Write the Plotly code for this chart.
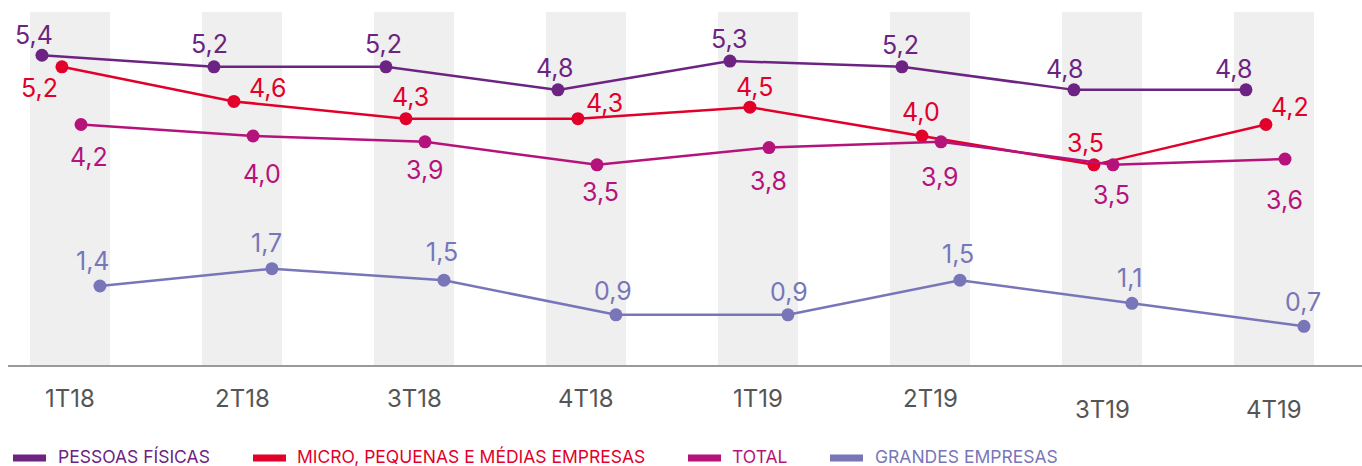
import plotly.graph_objects as go

# Quarterly series (values in %)
quarters = ["1T18", "2T18", "3T18", "4T18", "1T19", "2T19", "3T19", "4T19"]
pessoas_fisicas = [5.4, 5.2, 5.2, 4.8, 5.3, 5.2, 4.8, 4.8]
micro_pme = [5.2, 4.6, 4.3, 4.3, 4.5, 4.0, 3.5, 4.2]
total = [4.2, 4.0, 3.9, 3.5, 3.8, 3.9, 3.5, 3.6]
grandes_empresas = [1.4, 1.7, 1.5, 0.9, 0.9, 1.5, 1.1, 0.7]
series_names = ["PESSOAS FÍSICAS", "MICRO, PEQUENAS E MÉDIAS EMPRESAS",
                "TOTAL", "GRANDES EMPRESAS"]

# ---- styling -------------------------------------------------------------
FONT = "Inter"
W, H = 1362, 466
PLOT_L, PLOT_T, PLOT_W, PLOT_H = 8, 12, 1354, 353

colors = ["#6c2382", "#e2002b", "#b5137b", "#7876b8"]
x_offsets = [-0.163, -0.047, 0.064, 0.174]      # dodge inside each quarter
band_half = 0.233                                 # half width of grey bands

# label offsets (dx, dy in px, dy positive = down) for each point
label_offsets = [
    [(-8, -20), (-4, -23), (-2, -23), (-3, -22), (0, -22), (-1, -22), (-9, -21), (-12, -21)],
    [(-22, 21), (34, -13), (5, -22), (27, -16), (5, -20), (-1, -24), (-8, -22), (24, -17)],
    [(8, 33), (9, 38), (-1, 28), (3, 27), (-1, 33), (-2, 35), (-2, 30), (-1, 41)],
    [(-7, -25), (-5, -26), (-2, -28), (-3, -24), (1, -23), (-2, -26), (-2, -25), (-1, -24)],
]

legend_swatch_px = [13, 253, 688, 830]
legend_text_px = [56, 295, 730, 873]
LEGEND_Y_PX = 456
tick_y_px = {q: 398 for q in quarters}
tick_y_px["3T19"] = 410
tick_y_px["4T19"] = 410


def px_x(px):
    return (px - PLOT_L) / PLOT_W


def px_y(py):
    return (PLOT_T + PLOT_H - py) / PLOT_H


def fmt(v):
    return f"{v:.1f}".replace(".", ",")


all_series = [pessoas_fisicas, micro_pme, total, grandes_empresas]
idx = list(range(len(quarters)))

fig = go.Figure()
annotations = []
shapes = []

# grey band behind each quarter
for i in idx:
    shapes.append(dict(type="rect", xref="x", yref="paper",
                       x0=i - band_half, x1=i + band_half, y0=0, y1=1,
                       fillcolor="#efefef", line=dict(width=0), layer="below"))

for s, (name, vals) in enumerate(zip(series_names, all_series)):
    xs = [i + x_offsets[s] for i in idx]
    fig.add_trace(go.Scatter(
        x=xs, y=vals, mode="lines+markers", name=name,
        line=dict(color=colors[s], width=2.5),
        marker=dict(color=colors[s], size=13),
        showlegend=False, hoverinfo="skip"))
    for i, v in enumerate(vals):
        dx, dy = label_offsets[s][i]
        annotations.append(dict(
            x=xs[i], y=v, xref="x", yref="y", text=fmt(v), showarrow=False,
            xshift=dx, yshift=-dy, xanchor="center", yanchor="middle",
            font=dict(family=FONT, size=25, color=colors[s])))

    # legend entry: swatch + coloured caption
    shapes.append(dict(type="rect", xref="paper", yref="paper",
                       x0=px_x(legend_swatch_px[s]), x1=px_x(legend_swatch_px[s] + 33),
                       y0=px_y(LEGEND_Y_PX + 5.5), y1=px_y(LEGEND_Y_PX - 1.5),
                       fillcolor=colors[s], line=dict(width=0)))
    annotations.append(dict(
        x=px_x(legend_text_px[s]), y=px_y(LEGEND_Y_PX), xref="paper", yref="paper",
        text=name, showarrow=False, xanchor="left", yanchor="middle",
        font=dict(family=FONT, size=17.5, color=colors[s])))

# quarter labels under the axis
for i, q in enumerate(quarters):
    annotations.append(dict(
        x=i, y=px_y(tick_y_px[q]), xref="x", yref="paper", text=q,
        showarrow=False, xanchor="center", yanchor="middle",
        font=dict(family=FONT, size=24, color="#555555")))

x_lo = -(70 - PLOT_L) / 172
fig.update_layout(
    width=W, height=H,
    margin=dict(l=PLOT_L, r=W - PLOT_L - PLOT_W, t=PLOT_T, b=H - PLOT_T - PLOT_H, pad=0),
    plot_bgcolor="white", paper_bgcolor="white",
    xaxis=dict(range=[x_lo, x_lo + PLOT_W / 172], showgrid=False, zeroline=False,
               showticklabels=False, ticks="", showline=True,
               linecolor="#9a9a9a", linewidth=2),
    yaxis=dict(range=[0.03, 6.15], showgrid=False, zeroline=False,
               showticklabels=False, ticks="", showline=False),
    shapes=shapes, annotations=annotations, showlegend=False,
)

fig.write_html("out.html")
